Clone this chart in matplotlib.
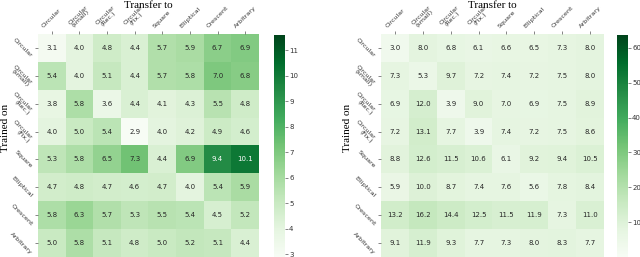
import numpy as np
import matplotlib
matplotlib.use("Agg")
import matplotlib.pyplot as plt

# Labels
labels = ["Circular", "Circular\n(small)", "Circular\n(Rec.)", "Circular\n(Fix.)",
          "Square", "Elliptical", "Crescent", "Arbitrary"]

# Left heatmap values
left_vals = np.array([
    [3.1, 4.0, 4.8, 4.4, 5.7, 5.9, 6.7, 6.9],
    [5.4, 4.0, 5.1, 4.4, 5.7, 5.8, 7.0, 6.8],
    [3.8, 5.8, 3.6, 4.4, 4.1, 4.3, 5.5, 4.8],
    [4.0, 5.0, 5.4, 2.9, 4.0, 4.2, 4.9, 4.6],
    [5.3, 5.8, 6.5, 7.3, 4.4, 6.9, 9.4, 10.1],
    [4.7, 4.8, 4.7, 4.6, 4.7, 4.0, 5.4, 5.9],
    [5.8, 6.3, 5.7, 5.3, 5.5, 5.4, 4.5, 5.2],
    [5.0, 5.8, 5.1, 4.8, 5.0, 5.2, 5.1, 4.4],
])

# Right heatmap values
right_vals = np.array([
    [3.0, 8.0, 6.8, 6.1, 6.6, 6.5, 7.3, 8.0],
    [7.3, 5.3, 9.7, 7.2, 7.4, 7.2, 7.5, 8.0],
    [6.9, 12.0, 3.9, 9.0, 7.0, 6.9, 7.5, 8.9],
    [7.2, 13.1, 7.7, 3.9, 7.4, 7.2, 7.5, 8.6],
    [8.8, 12.6, 11.5, 10.6, 6.1, 9.2, 9.4, 10.5],
    [5.9, 10.0, 8.7, 7.4, 7.6, 5.6, 7.8, 8.4],
    [13.2, 16.2, 14.4, 12.5, 11.5, 11.9, 7.3, 11.0],
    [9.1, 11.9, 9.3, 7.7, 7.3, 8.0, 8.3, 7.7],
])

W, H = 640.0, 257.0
fig = plt.figure(figsize=(6.4, 2.57), dpi=100)


def draw(vals, ax_box, cb_box, vmin, vmax, cb_ticks, title_x, ylab_x):
    ax = fig.add_axes(ax_box)
    im = ax.imshow(vals, cmap="Greens", vmin=vmin, vmax=vmax, aspect="auto")
    n = vals.shape[0]
    for i in range(n):
        for j in range(vals.shape[1]):
            v = vals[i, j]
            frac = (v - vmin) / (vmax - vmin)
            col = "white" if frac > 0.6 else "#262626"
            ax.text(j, i, f"{v:.1f}", ha="center", va="center", fontsize=5, color=col)
    ax.set_xticks(range(n))
    ax.set_yticks(range(n))
    ax.xaxis.tick_top()
    ax.set_xticklabels(labels, rotation=45, ha="center", va="bottom",
                       fontsize=4.6, color="#333333", linespacing=0.85)
    ax.set_yticklabels(labels, rotation=-45, ha="right", va="center",
                       fontsize=4.6, color="#333333", linespacing=0.85)
    ax.tick_params(length=2, width=0.5, color="#555555", pad=1.5)
    for s in ax.spines.values():
        s.set_visible(False)
    fig.text(title_x / W, 1 - 5 / H, "Transfer to", fontsize=8,
             family="Liberation Serif", ha="center", va="center")
    fig.text(ylab_x / W, 1 - 128 / H, "Trained on", fontsize=8,
             family="Liberation Serif", ha="center", va="center", rotation=90)

    cax = fig.add_axes(cb_box)
    cb = fig.colorbar(im, cax=cax)
    cb.set_ticks(cb_ticks)
    cb.ax.tick_params(labelsize=5, length=2, width=0.5, color="#555555",
                      labelcolor="#333333", pad=1)
    cb.outline.set_visible(False)
    return ax


draw(left_vals, [38 / W, 0, 221 / W, 223 / H], [274 / W, 0, 11 / W, 222 / H],
     2.9, 11.6, [3, 4, 5, 6, 7, 8, 9, 10, 11], 148, 6)
draw(right_vals, [381 / W, 0, 223 / W, 223 / H], [617 / W, 0, 11 / W, 222 / H],
     0, 63.7, [10, 20, 30, 40, 50, 60], 492, 347)

plt.savefig("out.png", dpi=100)
